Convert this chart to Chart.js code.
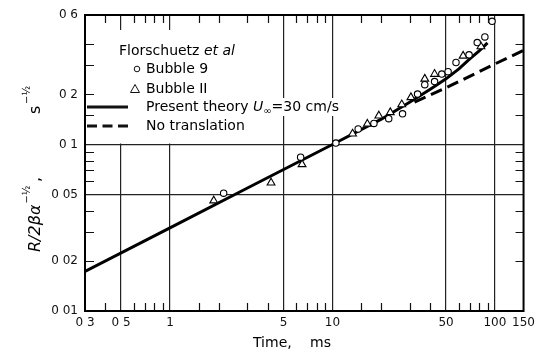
<!DOCTYPE html>
<html>
<head>
<meta charset="utf-8">
<script src="https://cdn.jsdelivr.net/npm/chart.js@4"></script>
<style>
  body { margin: 0; background: #fff; }
</style>
</head>
<body>
<canvas id="grafico" width="540" height="353"></canvas>
<script>
// datos (tiempo en ms, R/2βα^-1/2 en s^-1/2)
const burbuja9Tiempo = [2.14, 6.37, 10.5, 14.4, 18, 22.2, 27, 33.4, 37, 42.5, 47.1, 51.5, 57.6, 69.3, 77.8, 86.7, 96];
const burbuja9R      = [0.051, 0.084, 0.102, 0.124, 0.134, 0.143, 0.153, 0.201, 0.229, 0.239, 0.265, 0.274, 0.311, 0.346, 0.41, 0.443, 0.55];

const burbuja11Tiempo = [1.86, 4.19, 6.5, 13.3, 16.4, 19.3, 22.7, 26.7, 30.4, 37, 42.5, 63.7, 82];
const burbuja11R      = [0.046, 0.059, 0.076, 0.116, 0.133, 0.149, 0.156, 0.174, 0.192, 0.248, 0.265, 0.341, 0.388];

const teoriaTiempo = [0.3, 1, 3, 10, 20, 30, 40, 50, 60, 70, 80, 90];
const teoriaR      = [0.0173, 0.0316, 0.0548, 0.1, 0.142, 0.18, 0.215, 0.248, 0.285, 0.327, 0.365, 0.408];

const sinTraslacionTiempo = [32, 50, 100, 150];
const sinTraslacionR      = [0.18, 0.219, 0.305, 0.368];

const xTicks      = [0.3, 0.5, 1, 5, 10, 50, 100, 150];
const xTickTextos = ['0 3', '0 5', '1', '5', '10', '50', '100', '150'];
const xGrilla     = [0.5, 1, 5, 10, 50, 100];
const xMenores    = [0.4, 0.6, 0.7, 0.8, 0.9, 1.5, 2, 3, 4, 6, 7, 8, 9, 15, 20, 30, 40, 60, 70, 80, 90];

const yTicks      = [0.01, 0.02, 0.05, 0.1, 0.2, 0.6];
const yTickTextos = ['0 01', '0 02', '0 05', '0 1', '0 2', '0 6'];
const yGrilla     = [0.05, 0.1];
const yMenores    = [0.02, 0.03, 0.04, 0.06, 0.07, 0.08, 0.09, 0.15, 0.2, 0.3, 0.4];

const FUENTE = 'DejaVu Sans';
Chart.defaults.font.family = FUENTE;
Chart.defaults.color = '#111';

function juntar(xs, ys){
    return xs.map((x, i) => ({ x: x, y: ys[i] }));
}

const marcoYLeyenda = {
    id: 'marcoYLeyenda',
    beforeDatasetsDraw(chart){
        const ctx = chart.ctx;
        const a = chart.chartArea;
        const sx = chart.scales.x, sy = chart.scales.y;

        // tapa la grilla detras de la leyenda
        ctx.save();
        ctx.fillStyle = '#fff';
        ctx.fillRect(a.left + 1, 30, 95, sy.getPixelForValue(0.1) - 31);

        // marcas menores hacia adentro
        ctx.strokeStyle = '#111';
        ctx.lineWidth = 1.2;
        ctx.beginPath();
        xMenores.forEach(v => {
            const px = Math.round(sx.getPixelForValue(v)) + 0.5;
            ctx.moveTo(px, a.bottom); ctx.lineTo(px, a.bottom - 8);
            ctx.moveTo(px, a.top); ctx.lineTo(px, a.top + 8);
        });
        yMenores.forEach(v => {
            const py = Math.round(sy.getPixelForValue(v)) + 0.5;
            ctx.moveTo(a.left, py); ctx.lineTo(a.left + 9, py);
            ctx.moveTo(a.right, py); ctx.lineTo(a.right - 8, py);
        });
        ctx.stroke();

        // leyenda
        ctx.textBaseline = 'middle';
        ctx.fillStyle = '#000';
        const texto = (partes, x, y) => {
            let ancho = 0;
            partes.forEach(p => { ctx.font = p.f; ancho += ctx.measureText(p.t).width; });
            ctx.fillStyle = '#fff';
            ctx.fillRect(x - 2, y - 9, ancho + 4, 18);
            ctx.fillStyle = '#000';
            let cx = x;
            partes.forEach(p => {
                ctx.font = p.f;
                ctx.fillText(p.t, cx, y + (p.dy || 0));
                cx += ctx.measureText(p.t).width;
            });
        };
        const normal = '14px ' + FUENTE;
        const italica = 'italic 14px ' + FUENTE;
        texto([{ t: 'Florschuetz ', f: normal }, { t: 'et al', f: italica }], 119, 51);
        texto([{ t: 'Bubble 9', f: normal }], 146, 69);
        texto([{ t: 'Bubble II', f: normal }], 146, 89);
        texto([{ t: 'Present theory ', f: normal }, { t: 'U', f: italica },
               { t: '∞', f: '10px ' + FUENTE, dy: 4 }, { t: '=30 cm/s', f: normal }], 146, 107);
        texto([{ t: 'No translation', f: normal }], 146, 126);

        ctx.lineWidth = 1;
        ctx.beginPath();
        ctx.arc(137, 69, 2.8, 0, Math.PI * 2);
        ctx.stroke();
        ctx.beginPath();
        ctx.moveTo(135, 84.5); ctx.lineTo(139.5, 92.5); ctx.lineTo(130.5, 92.5); ctx.closePath();
        ctx.stroke();

        ctx.lineWidth = 3;
        ctx.beginPath();
        ctx.moveTo(87, 107); ctx.lineTo(128, 107);
        ctx.stroke();
        ctx.setLineDash([10, 5.5]);
        ctx.beginPath();
        ctx.moveTo(87, 126); ctx.lineTo(128, 126);
        ctx.stroke();
        ctx.restore();
    },
    afterDraw(chart){
        const ctx = chart.ctx;
        const a = chart.chartArea;
        ctx.save();
        ctx.strokeStyle = '#000';
        ctx.lineWidth = 2;
        ctx.strokeRect(a.left, a.top, a.right - a.left, a.bottom - a.top);

        // titulos de ejes
        ctx.fillStyle = '#000';
        ctx.textBaseline = 'middle';
        ctx.font = '14px ' + FUENTE;
        ctx.fillText('Time,', 253, 343);
        ctx.fillText('ms', 310, 343);

        ctx.translate(40, 252);
        ctx.rotate(-Math.PI / 2);
        ctx.textBaseline = 'alphabetic';
        ctx.font = 'italic 16px ' + FUENTE;
        ctx.fillText('R/2βα', 0, 0);
        const w = ctx.measureText('R/2βα').width;
        ctx.font = '10px ' + FUENTE;
        ctx.fillText('−½', w + 1, -10);
        ctx.font = '16px ' + FUENTE;
        ctx.fillText(',', 70, 0);
        ctx.fillText('s', 138, 0);
        ctx.font = '10px ' + FUENTE;
        ctx.fillText('−½', 148, -10);
        ctx.restore();
    }
};

function pintarGrafico(){
    const $ctx = document.getElementById('grafico').getContext('2d');

    new Chart($ctx, {
        type: 'scatter',
        data: {
            datasets: [
                {
                    label: 'Bubble 9',
                    data: juntar(burbuja9Tiempo, burbuja9R),
                    pointStyle: 'circle',
                    pointRadius: 3.2,
                    borderColor: '#000',
                    backgroundColor: '#fff',
                    borderWidth: 1.1,
                },
                {
                    label: 'Bubble II',
                    data: juntar(burbuja11Tiempo, burbuja11R),
                    pointStyle: 'triangle',
                    pointRadius: 4.5,
                    borderColor: '#000',
                    backgroundColor: '#fff',
                    borderWidth: 1.1,
                },
                {
                    label: 'Present theory',
                    data: juntar(teoriaTiempo, teoriaR),
                    showLine: true,
                    pointRadius: 0,
                    borderColor: '#000',
                    borderWidth: 3,
                },
                {
                    label: 'No translation',
                    data: juntar(sinTraslacionTiempo, sinTraslacionR),
                    showLine: true,
                    pointRadius: 0,
                    borderColor: '#000',
                    borderWidth: 3,
                    borderDash: [12, 6],
                }
            ]
        },
        options: {
            responsive: false,
            animation: false,
            layout: { padding: { top: 15, right: 12, left: 0, bottom: 0 } },
            plugins: {
                legend: { display: false },
                tooltip: { enabled: false },
            },
            scales: {
                x: {
                    type: 'logarithmic',
                    min: 0.3,
                    max: 150,
                    afterFit: s => { s.height = 42; },
                    afterBuildTicks: s => { s.ticks = xTicks.map(v => ({ value: v })); },
                    border: { display: false },
                    grid: {
                        drawTicks: false,
                        lineWidth: 1.2,
                        color: c => (c.tick && xGrilla.includes(c.tick.value)) ? '#222' : 'rgba(0,0,0,0)',
                    },
                    ticks: {
                        autoSkip: false,
                        maxRotation: 0,
                        padding: 5,
                        font: { size: 12 },
                        color: '#111',
                        callback: (v, i) => xTickTextos[i],
                    }
                },
                y: {
                    type: 'logarithmic',
                    min: 0.01,
                    max: 0.6,
                    afterFit: s => { s.width = 85; },
                    afterBuildTicks: s => { s.ticks = yTicks.map(v => ({ value: v })); },
                    border: { display: false },
                    grid: {
                        drawTicks: false,
                        lineWidth: 1.2,
                        color: c => (c.tick && yGrilla.includes(c.tick.value)) ? '#222' : 'rgba(0,0,0,0)',
                    },
                    ticks: {
                        autoSkip: false,
                        padding: 7,
                        font: { size: 12 },
                        color: '#111',
                        callback: (v, i) => yTickTextos[i],
                    }
                }
            }
        },
        plugins: [marcoYLeyenda]
    });
}

pintarGrafico();
</script>
</body>
</html>
